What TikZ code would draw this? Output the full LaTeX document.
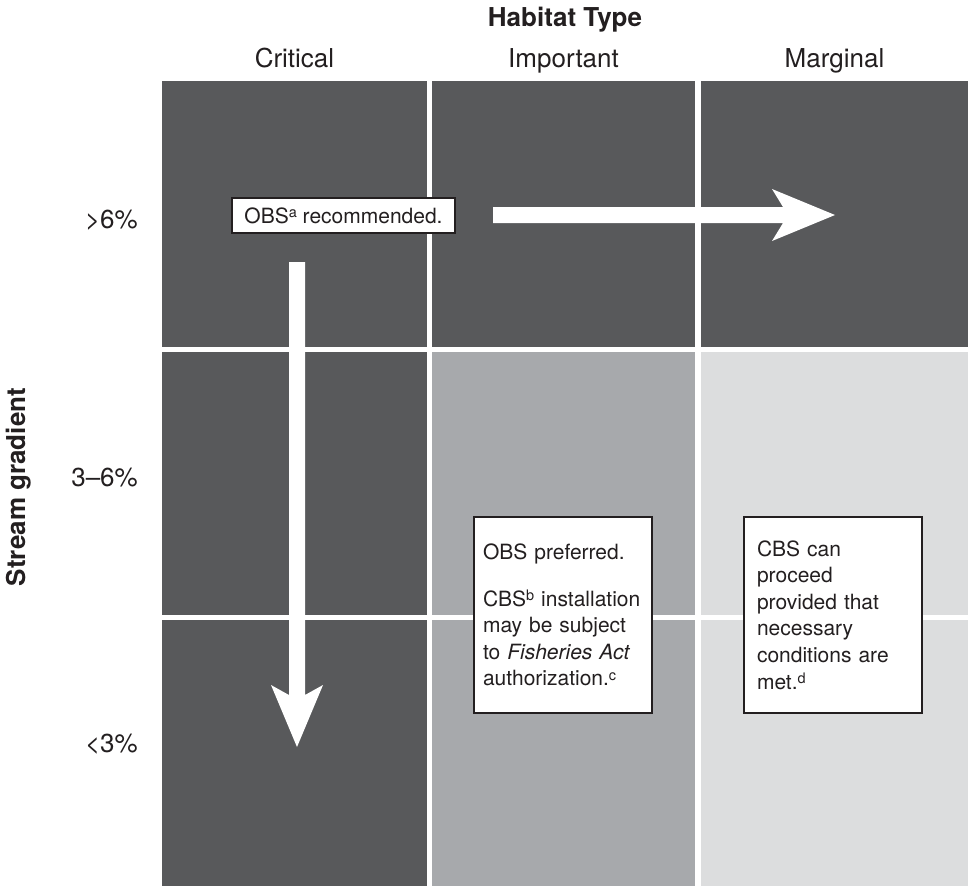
\documentclass[tikz,border=0pt]{standalone}
\usepackage{fontspec}
\setmainfont{TeX Gyre Heros}
\definecolor{cellA}{HTML}{58595B}
\definecolor{cellB}{HTML}{A7A9AC}
\definecolor{cellC}{HTML}{DCDDDE}
\definecolor{ink}{HTML}{231F20}
\newcommand\fnmark[1]{\raisebox{0.25em}{\fontsize{14.5}{14.5}\selectfont #1}}
\tikzset{
  lab/.style={font=\fontsize{26}{31}\selectfont, text=ink, inner sep=0pt},
  boldlab/.style={lab, font=\bfseries\fontsize{26}{31}\selectfont},
  note/.style={draw=ink, line width=2.2pt, fill=white, text=ink, font=\fontsize{21}{26.6}\selectfont, inner ysep=0pt},
}
\begin{document}
\begin{tikzpicture}[x=1pt,y=-1pt,line join=miter]
\useasboundingbox (0,0) rectangle (968,886);
\fill[white] (0,0) rectangle (968,886);
\foreach \xa/\xb/\ca in {162/427/cellA,432/695/cellB,701/968/cellC}{
  \fill[cellA] (\xa,81) rectangle (\xb,347);
  \fill[\ca] (\xa,352) rectangle (\xb,615);
  \fill[\ca] (\xa,620) rectangle (\xb,886);
}
\node[boldlab,anchor=base] (title) at (565,26) {Habitat Type};
\foreach \x/\t/\n in {294.5/Critical/crit,563.5/Important/imp,834.5/Marginal/marg}
  \node[lab,anchor=base] (\n) at (\x,67) {\t};
\foreach \y/\t/\n in {228/{>6\%}/hi,486/{3--6\%}/mid,752/{<3\%}/lo}
  \node[lab,anchor=base east] (\n) at (138,\y) {\t};
\node[boldlab,rotate=90,anchor=base] (grad) at (25,487) {Stream gradient};
\fill[white] (493,207) -- (783,207) -- (772,189) -- (835,215) -- (772,241) -- (783,223) -- (493,223) -- cycle;
\fill[white] (289,262) -- (289,695) -- (271,685) -- (297,747) -- (323,685) -- (305,695) -- (305,262) -- cycle;
\node[note,minimum width=223pt,minimum height=35pt,inner xsep=0pt] (rec) at (343.5,215.5) {OBS\fnmark{a} recommended.};
\node[note,text width=160pt,inner xsep=9pt,minimum height=196pt,align=left] (pref) at (563,615)
  {OBS preferred.\\[20pt] CBS\fnmark{b} installation\\ may be subject\\ to \textit{Fisheries Act}\\ authorization.\fnmark{c}};
\node[note,text width=152pt,inner xsep=13pt,minimum height=196pt,align=left] (cond) at (833,615)
  {CBS can\\ proceed\\ provided that\\ necessary\\ conditions are\\ met.\fnmark{d}};
\end{tikzpicture}
\end{document}
